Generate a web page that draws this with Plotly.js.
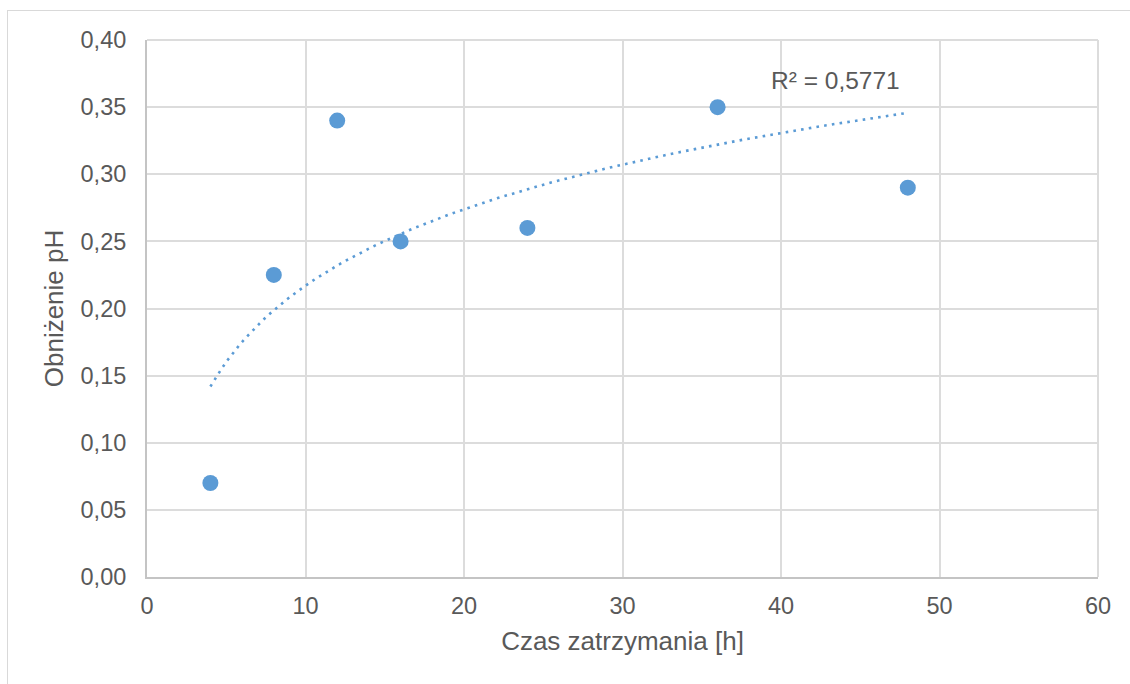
<!DOCTYPE html>
<html>
<head>
<meta charset="utf-8">
<script src="https://cdn.plot.ly/plotly-3.0.1.min.js"></script>
<style>
  html, body { margin: 0; padding: 0; background: #ffffff; }
  #wrap { position: relative; width: 1130px; height: 684px; overflow: hidden; }
  #frame { position: absolute; left: 7px; top: 10px; width: 1200px; height: 800px;
           border-left: 1px solid #d9d9d9; border-top: 1px solid #d9d9d9; box-sizing: border-box; }
  #chart { position: absolute; left: 0; top: 0; width: 1130px; height: 684px; }
</style>
</head>
<body>
<div id="wrap">
  <div id="frame"></div>
  <div id="chart"></div>
</div>
<script>
// Data
const timeHours = [4, 8, 12, 16, 24, 36, 48];
const phDrop = [0.07, 0.225, 0.34, 0.25, 0.26, 0.35, 0.29];
const xTickVals = [0, 10, 20, 30, 40, 50, 60];
const yTickVals = [0, 0.05, 0.10, 0.15, 0.20, 0.25, 0.30, 0.35, 0.40];
const xTitle = 'Czas zatrzymania [h]';
const yTitle = 'Obniżenie pH';
const r2Label = 'R² = 0,5771';

// Logarithmic least-squares trendline (as in the spreadsheet), from the data
const lx = timeHours.map(v => Math.log(v));
const n = lx.length;
const mx = lx.reduce((a, b) => a + b, 0) / n;
const my = phDrop.reduce((a, b) => a + b, 0) / n;
let sxy = 0, sxx = 0;
for (let i = 0; i < n; i++) { sxy += (lx[i] - mx) * (phDrop[i] - my); sxx += (lx[i] - mx) * (lx[i] - mx); }
const slope = sxy / sxx;
const intercept = my - slope * mx;
const xMin = Math.min(...timeHours), xMax = Math.max(...timeHours);
const trendX = [], trendY = [];
const steps = 120;
for (let k = 0; k <= steps; k++) {
  const x = xMin + (xMax - xMin) * k / steps;
  trendX.push(x);
  trendY.push(intercept + slope * Math.log(x));
}

const textColor = '#595959';
const blue = '#5b9bd5';
const gridColor = '#dcdcdc';
const font = 'Liberation Sans, Arial, sans-serif';

const traces = [
  {
    x: trendX, y: trendY, type: 'scatter', mode: 'lines',
    line: { color: blue, width: 2.6, dash: '2.6px,5.2px' },
    hoverinfo: 'skip', showlegend: false
  },
  {
    x: timeHours, y: phDrop, type: 'scatter', mode: 'markers',
    marker: { color: blue, size: 16, line: { width: 0 } },
    showlegend: false
  }
];

const layout = {
  width: 1130, height: 684,
  margin: { l: 147, r: 32, t: 40, b: 107 },
  paper_bgcolor: 'rgba(0,0,0,0)',
  plot_bgcolor: '#ffffff',
  separators: ', ',
  font: { family: font, color: textColor, size: 23.5 },
  showlegend: false,
  xaxis: {
    range: [0, 60], tickvals: xTickVals, ticktext: xTickVals.map(String),
    showgrid: true, gridcolor: gridColor, gridwidth: 2,
    showline: true, linecolor: '#c4c4c4', linewidth: 2, mirror: false,
    zeroline: false, ticks: '', ticklabelstandoff: 7,
    tickfont: { family: font, size: 23.5, color: textColor },
    title: { text: xTitle, font: { family: font, size: 26, color: textColor }, standoff: 14 }
  },
  yaxis: {
    range: [0, 0.40], tickvals: yTickVals, tickformat: '.2f',
    showgrid: true, gridcolor: gridColor, gridwidth: 2,
    showline: true, linecolor: '#c4c4c4', linewidth: 2,
    zeroline: false, ticks: '', ticklabelstandoff: 14,
    tickfont: { family: font, size: 23.5, color: textColor },
    title: { text: yTitle, font: { family: font, size: 26, color: textColor }, standoff: 9 }
  },
  shapes: [
    { type: 'line', xref: 'paper', yref: 'paper', x0: 0, x1: 1, y0: 1, y1: 1,
      line: { color: gridColor, width: 2 }, layer: 'below' },
    { type: 'line', xref: 'paper', yref: 'paper', x0: 1, x1: 1, y0: 0, y1: 1,
      line: { color: gridColor, width: 2 }, layer: 'below' }
  ],
  annotations: [
    {
      text: r2Label, x: 43.45, y: 0.3695, xref: 'x', yref: 'y',
      showarrow: false, xanchor: 'center', yanchor: 'middle',
      font: { family: font, size: 24.5, color: textColor }
    }
  ]
};

Plotly.newPlot('chart', traces, layout, { displayModeBar: false, staticPlot: true });
</script>
</body>
</html>
